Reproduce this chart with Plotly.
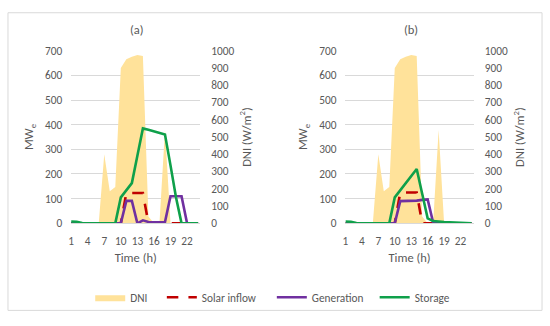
import plotly.graph_objects as go

# ---------------- data ----------------
hours = list(range(1, 25))
x_tick_vals = [1, 4, 7, 10, 13, 16, 19, 22]
x_tick_text = ["1", "4", "7", "10", "13", "16", "19", "22"]

dni = [0, 0, 0, 0, 0, 0, 400, 185, 210, 900, 950, 965,
       975, 970, 40, 0, 0, 540, 0, 0, 0, 0, 0, 0]

a_solar = [0, 0, 0, 0, 0, 0, 0, 0, 0, 0, 123, 123,
           123, 123, 0, 0, 0, 0, 0, 0, 0, 0, 0, 0]
a_generation = [0, 0, 0, 0, 0, 0, 0, 0, 0, 0, 91, 91,
                0, 12, 5, 3, 4, 5, 110, 110, 110, 0, 0, 0]
a_storage = [7, 6, 1, 0, 0, 0, 0, 0, 0, 105, 134, 163,
             274, 385, 379, 373, 366, 360, 235, 105, 0, 0, 0, 0]

b_solar = [0, 0, 0, 0, 0, 0, 0, 0, 0, 0, 125, 125,
           125, 125, 0, 0, 0, 0, 0, 0, 0, 0, 0, 0]
b_generation = [0, 0, 0, 0, 0, 0, 0, 0, 0, 0, 90, 90,
                91, 92, 95, 97, 3, 0, 0, 0, 0, 0, 0, 0]
b_storage = [7, 6, 1, 0, 0, 0, 0, 0, 0, 105, 134, 163,
             191, 220, 120, 20, 9, 6, 5, 4, 3, 2, 1, 0]

panel_titles = ["(a)", "(b)"]
series_names = ["DNI", "Solar inflow", "Generation", "Storage"]

# ---------------- style ----------------
FONT = "Carlito, Calibri, Lato, sans-serif"
TXT = "#595959"
GRID = "#D9D9D9"
C_DNI = "#FFE29A"
C_SOLAR = "#C00000"
C_GEN = "#7030A0"
C_STOR = "#0FA04A"
W, H = 550, 326

fig = go.Figure()

legend_ids = ["legend", "legend2", "legend3", "legend4"]


def add_panel(xa, ya_dni, ya_mw, solar, gen, stor, show):
    fig.add_trace(go.Scatter(x=hours, y=dni, xaxis=xa, yaxis=ya_dni, name=series_names[0],
                             mode="lines", line=dict(width=0, color=C_DNI),
                             fill="tozeroy", fillcolor=C_DNI, showlegend=show,
                             legend=legend_ids[0]))
    fig.add_trace(go.Scatter(x=hours, y=solar, xaxis=xa, yaxis=ya_mw, name=series_names[1],
                             mode="lines", line=dict(width=2.6, color=C_SOLAR, dash="11.5px,10.1px"),
                             showlegend=show, legend=legend_ids[1]))
    fig.add_trace(go.Scatter(x=hours, y=gen, xaxis=xa, yaxis=ya_mw, name=series_names[2],
                             mode="lines", line=dict(width=2.6, color=C_GEN),
                             showlegend=show, legend=legend_ids[2]))
    fig.add_trace(go.Scatter(x=hours, y=stor, xaxis=xa, yaxis=ya_mw, name=series_names[3],
                             mode="lines", line=dict(width=2.6, color=C_STOR),
                             showlegend=show, legend=legend_ids[3]))


add_panel("x", "y", "y2", a_solar, a_generation, a_storage, True)
add_panel("x2", "y3", "y4", b_solar, b_generation, b_storage, False)

ydom = [100 / H, 280.3 / H]
xdom_a = [68.5 / W, 198.4 / W]
xdom_b = [344.3 / W, 473.3 / W]

tickfont = dict(family=FONT, size=11.3, color=TXT)
titlefont = dict(family=FONT, size=12.5, color=TXT)


def xaxis(dom, anchor):
    return dict(domain=dom, anchor=anchor, range=[1, 24.4], tickvals=x_tick_vals,
                ticktext=x_tick_text, showgrid=False, zeroline=False,
                showline=True, linecolor=GRID, linewidth=1, ticks="",
                tickfont=tickfont, ticklabelstandoff=7,
                title=dict(text="Time (h)", font=titlefont, standoff=6))


def dni_axis(anchor):
    return dict(domain=ydom, anchor=anchor, side="right", range=[0, 1000],
                dtick=100, showgrid=False, zeroline=False, showline=False, ticks="",
                tickfont=tickfont, ticklabelstandoff=10,
                title=dict(text="DNI (W/m<sup>2</sup>)", font=titlefont, standoff=8))


def mw_axis(anchor, over):
    return dict(domain=ydom, anchor=anchor, overlaying=over, side="left", range=[0, 700],
                dtick=100, showgrid=True, gridcolor=GRID, gridwidth=1, zeroline=False,
                showline=False, ticks="", tickfont=tickfont, ticklabelstandoff=8,
                title=dict(text="MW<sub>e</sub>", font=titlefont, standoff=8))


def legend_at(xpx):
    return dict(orientation="h", x=xpx / W, xanchor="left", y=(H - 303.3) / H,
                yanchor="middle", font=dict(family=FONT, size=11.3, color=TXT),
                bgcolor="rgba(0,0,0,0)", borderwidth=0)


fig.update_layout(
    width=W, height=H,
    margin=dict(l=0, r=0, t=0, b=0),
    paper_bgcolor="white", plot_bgcolor="rgba(0,0,0,0)",
    font=dict(family=FONT, size=11.3, color=TXT),
    xaxis=xaxis(xdom_a, "y"),
    yaxis=dni_axis("x"),
    yaxis2=mw_axis("x", "y"),
    xaxis2=xaxis(xdom_b, "y3"),
    yaxis3=dni_axis("x2"),
    yaxis4=mw_axis("x2", "y3"),
    legend=legend_at(87.7),
    legend2=legend_at(159.7),
    legend3=legend_at(270.3),
    legend4=legend_at(373.7),
    showlegend=True,
    shapes=[dict(type="rect", xref="paper", yref="paper",
                 x0=5 / W, x1=542 / W, y0=1 - 317 / H, y1=1 - 6 / H,
                 line=dict(color=GRID, width=1), fillcolor="rgba(0,0,0,0)", layer="below")],
    annotations=[
        dict(text=panel_titles[0], x=135 / W, y=1 - 23.3 / H, xref="paper", yref="paper",
             showarrow=False, font=titlefont, xanchor="center", yanchor="middle"),
        dict(text=panel_titles[1], x=410 / W, y=1 - 23.3 / H, xref="paper", yref="paper",
             showarrow=False, font=titlefont, xanchor="center", yanchor="middle"),
    ],
)

fig.write_html("out.html", config={"displayModeBar": False},
               post_script="document.body.style.margin='0';")
